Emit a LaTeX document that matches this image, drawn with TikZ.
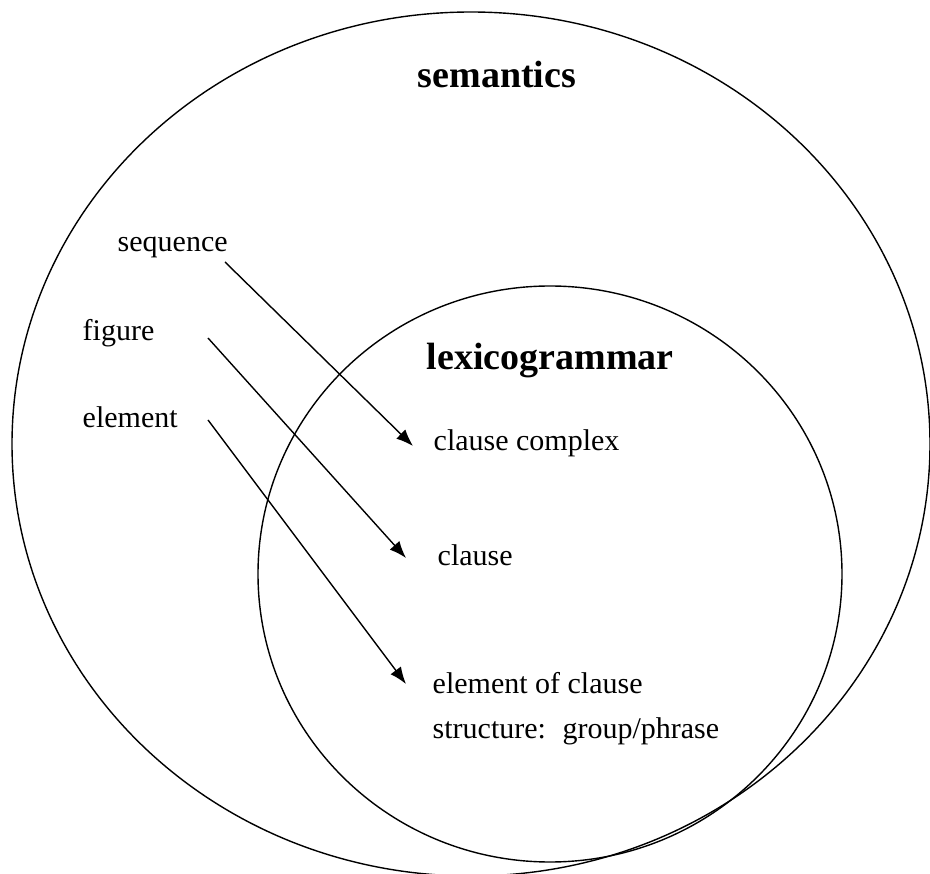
\documentclass[tikz,border=0pt]{standalone}
\usepackage{fontspec}
\setmainfont{Liberation Serif}
\usetikzlibrary{arrows.meta}

\begin{document}
\begin{tikzpicture}[x=1pt,y=-1pt,line width=1.4pt,
 >={Latex[length=17pt,width=13pt]},
 label/.style={anchor=west,inner sep=0pt,font=\fontsize{30}{36}\selectfont},
 title/.style={inner sep=0pt,font=\fontsize{38}{44}\selectfont\bfseries}]
 \useasboundingbox (0,0) rectangle (930,874);

 % the two areas
 \draw (471,444) ellipse [x radius=459,y radius=432];
 \draw (550,574) ellipse [x radius=292,y radius=288];

 \node[title] (sem) at (497,75) {semantics};
 \node[title,anchor=west] (lex) at (426,361) {lexicogrammar};

 % semantic units
 \node[label] (seq) at (117,247) {sequence};
 \node[label] (fig) at (82,333) {figure};
 \node[label] (elt) at (82,417) {element};

 % grammatical units
 \node[label] (cc) at (433,443) {clause complex};
 \node[label] (cl) at (437,555) {clause};
 \node[label] (ec) at (432,683) {element of clause};
 \node[label] (gp) at (432,731) {structure:\hspace{0.55em}group/phrase};

 \coordinate (s1) at (225,262);
 \coordinate (s2) at (208,338);
 \coordinate (s3) at (208,420);

 \path[->] (s1) edge ([xshift=-20pt,yshift=-3pt]cc.west)
 (s2) edge ([xshift=-31pt,yshift=-3pt]cl.west)
 (s3) edge ([xshift=-26pt,yshift=-1pt]ec.west);
\end{tikzpicture}
\end{document}
